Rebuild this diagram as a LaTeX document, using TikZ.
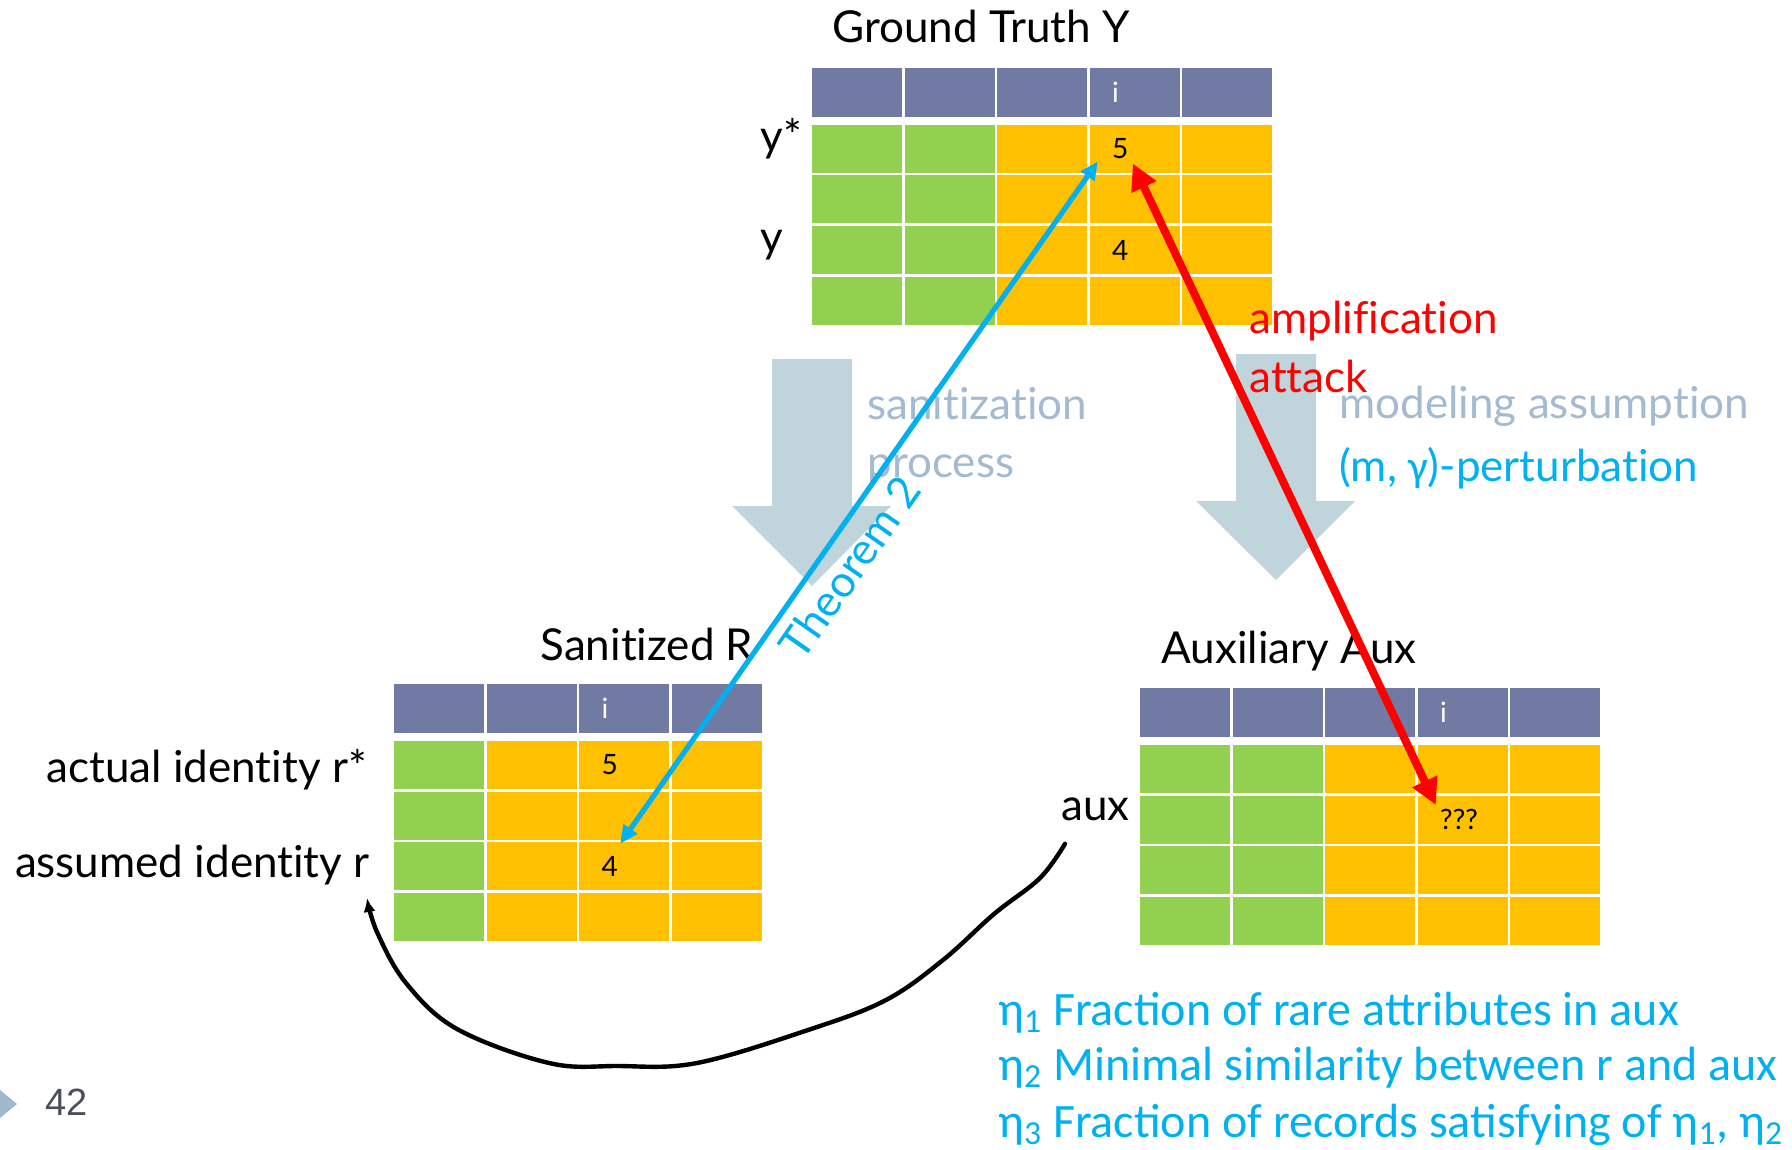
\documentclass[tikz,border=0pt]{standalone}
\usepackage{fontspec}
\setmainfont{Lato}[Ligatures={NoCommon,NoRequired,NoContextual}]
\newfontfamily\calfont{Carlito}
\newfontfamily\numfont{Liberation Sans}
\usepackage{tikz}
\usetikzlibrary{arrows.meta,calc}
\definecolor{Slate}{HTML}{717AA2}
\definecolor{Leaf}{HTML}{92D050}
\definecolor{Amber}{HTML}{FFC000}
\definecolor{Haze}{HTML}{C0D4DC}
\definecolor{Mute}{HTML}{A3BAD1}
\definecolor{Sky}{HTML}{00B0F0}
\definecolor{Alert}{HTML}{FF0000}
\definecolor{Pager}{HTML}{4B4F5D}
\definecolor{Marker}{HTML}{A0B7CD}

\begin{document}
\begin{tikzpicture}[x=0.5pt,y=-0.5pt,
    big/.style={font=\fontsize{22}{26}\selectfont},
    lab/.style={big,inner sep=0pt},
    cellval/.style={anchor=west,inner sep=2pt,font=\fontsize{14}{16}\selectfont},
    etatext/.style={Sky,anchor=base west,inner sep=0pt,font=\calfont\fontsize{24}{28}\selectfont},
    redlink/.style={Alert,line width=4pt,{Triangle[length=13pt,width=13pt]}-{Triangle[length=13pt,width=13pt]}},
    bluelink/.style={Sky,line width=2.6pt,{Triangle[length=9pt,width=8pt]}-{Triangle[length=9pt,width=8pt]}},
    handlink/.style={black,line width=2.2pt,line cap=round,line join=round,-{Latex[length=7pt,width=6pt]}}]
  \useasboundingbox (0,0) rectangle (1792,1150);

  \begin{scope}[shift={(812,68)}]
    \foreach \c in {0,...,4}
      \fill[Slate] ({\c*92.6},0) rectangle ++(90,49);
    \foreach \r in {0,...,3} {
      \foreach \c in {0,1}
        \fill[Leaf] ({\c*92.6},{57+\r*50.5}) rectangle ++(90,48);
      \foreach \c in {2,3,4}
        \fill[Amber] ({\c*92.6},{57+\r*50.5}) rectangle ++(90,48);
    }
    \node[cellval,white] (ycol) at (295.8,24.5) {i};
    \node[cellval] (y5) at (295.8,81) {5};
    \node[cellval] (y4) at (295.8,182) {4};
  \end{scope}

  \begin{scope}[shift={(394,684)}]
    \foreach \c in {0,...,3}
      \fill[Slate] ({\c*92.6},0) rectangle ++(90,49);
    \foreach \r in {0,...,3} {
      \fill[Leaf] (0,{57+\r*50.5}) rectangle ++(90,48);
      \foreach \c in {1,2,3}
        \fill[Amber] ({\c*92.6},{57+\r*50.5}) rectangle ++(90,48);
    }
    \node[cellval,white] (rcol) at (203.2,24.5) {i};
    \node[cellval] (r5) at (203.2,81) {5};
    \node[cellval] (r4) at (203.2,182) {4};
  \end{scope}

  \begin{scope}[shift={(1140,688)}]
    \foreach \c in {0,...,4}
      \fill[Slate] ({\c*92.6},0) rectangle ++(90,49);
    \foreach \r in {0,...,3} {
      \foreach \c in {0,1}
        \fill[Leaf] ({\c*92.6},{57+\r*50.5}) rectangle ++(90,48);
      \foreach \c in {2,3,4}
        \fill[Amber] ({\c*92.6},{57+\r*50.5}) rectangle ++(90,48);
    }
    \node[cellval,white] (acol) at (295.8,24.5) {i};
    \node[cellval] (auxq) at (295.8,131.5) {???};
  \end{scope}

  \fill[Haze] (772,359) -- (852,359) -- (852,506) -- (891,506) -- (812,586) -- (732,506) -- (772,506) -- cycle;
  \fill[Haze] (1236,354) -- (1316,354) -- (1316,501) -- (1355,501) -- (1276,580) -- (1196,501) -- (1236,501) -- cycle;

  \node[big,anchor=base] (gtitle) at (981,43) {Ground Truth Y};
  \node[big,anchor=base] (stitle) at (647,660) {Sanitized R};
  \node[big,anchor=base] (atitle) at (1289,663) {Auxiliary Aux};
  \node[lab,anchor=base west] (ystar) at (760,152) {y*};
  \node[lab,anchor=base west] (yplain) at (760,252) {y};
  \node[lab,anchor=base east] (ractual) at (367,782) {actual identity r*};
  \node[lab,anchor=base east] (rassumed) at (370,877) {assumed identity r};
  \node[lab,anchor=base west] (auxlab) at (1061,820) {aux};

  \node[lab,Mute,anchor=base west] (sanit1) at (867,419) {sanitization};
  \node[lab,Mute,anchor=base west] (sanit2) at (867,477) {process};
  \node[lab,Mute,anchor=base west] (model1) at (1339,418) {modeling assumption};
  \node[lab,Sky,anchor=base west] (model2) at (1339,481) {(m, {\calfont γ})-perturbation};
  \node[lab,Alert,anchor=base west] (ampl1) at (1249,333) {amplification};
  \node[lab,Alert,anchor=base west] (ampl2) at (1249,392) {attack};

  \draw[bluelink] ($(r4.north east)+(-2,-8)$) -- ($(y5.south west)+(-10,-2)$)
    node[pos=0.43,sloped,below=2pt,big,Sky] (thm) {Theorem 2};
  \draw[redlink] (auxq.north west) -- (y5.south east);

  \coordinate (curvefrom) at ($(auxlab.south west)+(4,23)$);
  \coordinate (curveto) at ($(rassumed.south east)+(-3,13)$);
  \draw[handlink] plot[smooth,tension=0.6] coordinates {(curvefrom) (1040,878) (994,914) (943,960) (886,1000) (811,1029) (697,1063) (617,1066) (549,1063) (457,1029) (406,983) (377,932) (curveto)};

  \node[etatext] (eta1) at (998,1025) {η\textsubscript{1} Fraction of rare attributes in aux};
  \node[etatext] (eta2) at (998,1080) {η\textsubscript{2} Minimal similarity between r and aux};
  \node[etatext] (eta3) at (998,1137) {η\textsubscript{3} Fraction of records satisfying of η\textsubscript{1}, η\textsubscript{2}};

  \fill[Marker] (0,1090) -- (17,1104) -- (0,1118) -- cycle;
  \node[anchor=base west,inner sep=0pt,Pager,font=\numfont\fontsize{19}{22}\selectfont] (pageno) at (45,1115) {42};
\end{tikzpicture}
\end{document}
